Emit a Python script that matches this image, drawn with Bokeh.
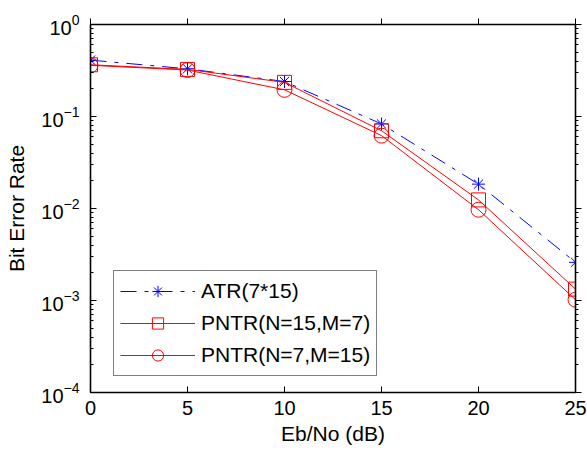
from bokeh.plotting import figure
from bokeh.models import (LinearAxis, LogAxis, Legend, LegendItem, FixedTicker,
                          LogTicker, CustomJSTickFormatter)
from bokeh.embed import file_html
from bokeh.resources import INLINE

# Data
ebno = [0, 5, 10, 15, 20, 25]
atr = [0.41, 0.33, 0.24, 0.083, 0.0184, 0.0026]
pntr_15_7 = [0.365, 0.325, 0.235, 0.070, 0.0124, 0.00133]
pntr_7_15 = [0.36, 0.32, 0.195, 0.062, 0.0097, 0.00102]
x_ticks = [0, 5, 10, 15, 20, 25]
labels = ["ATR(7*15)", "PNTR(N=15,M=7)", "PNTR(N=7,M=15)"]

FONT = "Liberation Sans"

p = figure(width=587, height=452, y_axis_type="log",
           x_range=(0, 25), y_range=(1e-4, 1),
           output_backend="svg", toolbar_location=None,
           min_border_left=90, min_border_right=12,
           min_border_top=24, min_border_bottom=60)
p.xgrid.visible = False
p.ygrid.visible = False
p.outline_line_color = None
p.background_fill_color = "white"

blue = "#0000ff"
red = "#ff0000"

l1 = p.line(ebno, atr, line_color=blue, line_width=1, line_dash="16 8 4 8")
m1 = p.scatter(ebno, atr, marker="asterisk", size=13, line_color=blue, line_width=1)
l2 = p.line(ebno, pntr_15_7, line_color=red, line_width=1)
m2 = p.scatter(ebno, pntr_15_7, marker="square", size=14, line_color=red,
               fill_color=None, line_width=1)
l3 = p.line(ebno, pntr_7_15, line_color=red, line_width=1)
m3 = p.scatter(ebno, pntr_7_15, marker="circle", size=15, line_color=red,
               fill_color=None, line_width=1)

def style_axis(ax):
    ax.axis_line_color = "black"
    ax.axis_line_width = 1.6
    ax.major_tick_in = 6
    ax.major_tick_out = 0
    ax.minor_tick_in = 3
    ax.minor_tick_out = 0
    ax.major_tick_line_color = "black"
    ax.minor_tick_line_color = "black"
    ax.major_label_text_font = FONT
    ax.major_label_text_font_size = "20px"
    ax.major_label_text_color = "black"
    ax.axis_label_text_font = FONT
    ax.axis_label_text_font_size = "21px"
    ax.axis_label_text_font_style = "normal"
    ax.axis_label_text_color = "black"

xa = p.xaxis[0]
xa.ticker = FixedTicker(ticks=x_ticks)
xa.axis_label = "Eb/No (dB)"
style_axis(xa)
xa.minor_tick_line_color = None
xa.major_label_standoff = 8
xa.axis_label_standoff = 4

ya = p.yaxis[0]
ya.ticker = LogTicker(num_minor_ticks=10)
ya.axis_label = "Bit Error Rate"
style_axis(ya)
ya.major_label_standoff = 11
ya.axis_label_standoff = 10

blank = CustomJSTickFormatter(code="return '';")

top = LinearAxis(ticker=FixedTicker(ticks=x_ticks), formatter=blank)
style_axis(top)
top.minor_tick_line_color = None
top.major_tick_in = 0
top.major_tick_out = 6
top.major_label_standoff = 0
p.add_layout(top, "above")

right = LogAxis(ticker=LogTicker(num_minor_ticks=10), formatter=blank)
style_axis(right)
right.major_tick_in = 0
right.major_tick_out = 6
right.minor_tick_in = 0
right.minor_tick_out = 3
right.major_label_standoff = 0
p.add_layout(right, "right")

legend = Legend(items=[
    LegendItem(label=labels[0], renderers=[l1, m1]),
    LegendItem(label=labels[1], renderers=[l2, m2]),
    LegendItem(label=labels[2], renderers=[l3, m3]),
], location=(23, 16))
legend.label_text_font = FONT
legend.label_text_font_size = "21px"
legend.label_text_color = "black"
legend.glyph_width = 75
legend.glyph_height = 28
legend.label_height = 28
legend.label_standoff = 6
legend.spacing = 4
legend.padding = 6
legend.border_line_color = "black"
legend.border_line_width = 1
legend.background_fill_color = "white"
legend.background_fill_alpha = 1
p.add_layout(legend, "center")

open("out.html", "w").write(file_html(p, INLINE))
